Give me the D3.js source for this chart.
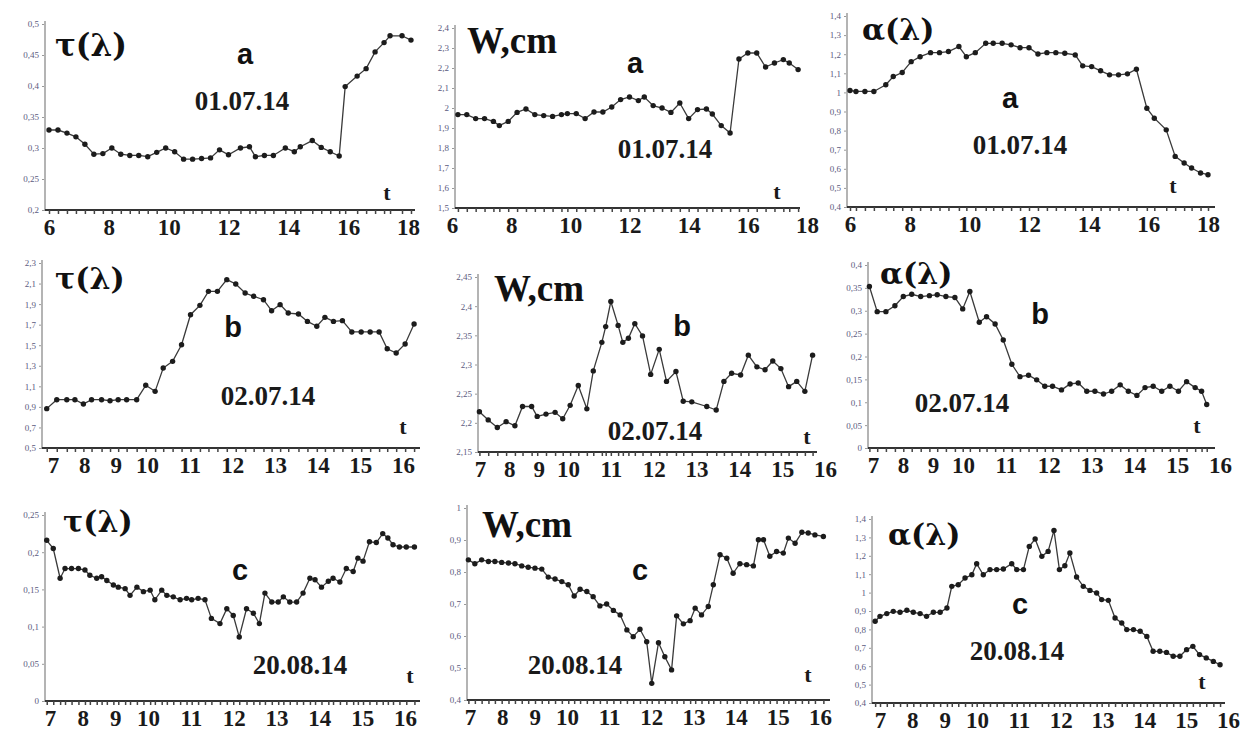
<!DOCTYPE html>
<html>
<head>
<meta charset="utf-8">
<script src="https://cdn.jsdelivr.net/npm/d3@7"></script>
<style>
body { margin: 0; background: #fff; }
</style>
</head>
<body>
<script>
// tick labels
var hoursDay1 = [6, 8, 10, 12, 14, 16, 18];
var hoursDay2 = [7, 8, 9, 10, 11, 12, 13, 14, 15, 16];

var tauATicks = [0.2, 0.25, 0.3, 0.35, 0.4, 0.45, 0.5];
var wATicks = [1.5, 1.6, 1.7, 1.8, 1.9, 2, 2.1, 2.2, 2.3, 2.4];
var alphaATicks = [0.4, 0.5, 0.6, 0.7, 0.8, 0.9, 1, 1.1, 1.2, 1.3, 1.4];
var tauBTicks = [0.5, 0.7, 0.9, 1.1, 1.3, 1.5, 1.7, 1.9, 2.1, 2.3];
var wBTicks = [2.15, 2.2, 2.25, 2.3, 2.35, 2.4, 2.45];
var alphaBTicks = [0, 0.05, 0.1, 0.15, 0.2, 0.25, 0.3, 0.35, 0.4];
var tauCTicks = [0, 0.05, 0.1, 0.15, 0.2, 0.25];
var wCTicks = [0.4, 0.5, 0.6, 0.7, 0.8, 0.9, 1];
var alphaCTicks = [0.4, 0.5, 0.6, 0.7, 0.8, 0.9, 1, 1.1, 1.2, 1.3, 1.4];

// series: [hour, value]
var tauA = [[6.0,0.329],[6.3,0.329],[6.6,0.324],[6.9,0.318],[7.2,0.306],[7.5,0.29],[7.8,0.291],[8.1,0.30],[8.4,0.29],[8.7,0.288],[9.0,0.288],[9.3,0.286],[9.6,0.293],[9.9,0.30],[10.2,0.294],[10.5,0.282],[10.8,0.282],[11.1,0.283],[11.4,0.284],[11.7,0.297],[12.0,0.289],[12.4,0.30],[12.7,0.302],[12.9,0.286],[13.2,0.288],[13.5,0.288],[13.9,0.30],[14.2,0.294],[14.4,0.302],[14.8,0.312],[15.1,0.301],[15.4,0.294],[15.7,0.287],[15.9,0.399],[16.3,0.416],[16.6,0.428],[16.9,0.455],[17.2,0.47],[17.4,0.481],[17.8,0.481],[18.1,0.474]];
var wA = [[6.2,1.967],[6.5,1.967],[6.8,1.947],[7.1,1.947],[7.4,1.933],[7.6,1.912],[7.9,1.933],[8.2,1.978],[8.5,1.995],[8.8,1.967],[9.1,1.962],[9.4,1.958],[9.7,1.967],[9.9,1.972],[10.2,1.972],[10.5,1.947],[10.8,1.98],[11.1,1.98],[11.4,2.005],[11.7,2.042],[12.0,2.055],[12.3,2.037],[12.5,2.055],[12.8,2.012],[13.1,2.0],[13.4,1.978],[13.7,2.025],[14.0,1.947],[14.3,1.992],[14.6,1.995],[14.8,1.97],[15.1,1.912],[15.4,1.875],[15.7,2.245],[16.0,2.275],[16.3,2.275],[16.6,2.205],[16.9,2.225],[17.2,2.242],[17.4,2.225],[17.7,2.192]];
var alphaA = [[6.0,1.01],[6.2,1.005],[6.5,1.005],[6.8,1.005],[7.2,1.04],[7.45,1.083],[7.75,1.104],[8.05,1.161],[8.35,1.187],[8.7,1.208],[9.0,1.208],[9.3,1.214],[9.65,1.24],[9.9,1.187],[10.2,1.208],[10.55,1.257],[10.8,1.257],[11.1,1.257],[11.4,1.249],[11.7,1.234],[12.0,1.234],[12.3,1.201],[12.6,1.208],[12.9,1.208],[13.2,1.205],[13.55,1.196],[13.8,1.139],[14.1,1.135],[14.4,1.113],[14.7,1.092],[15.0,1.092],[15.3,1.097],[15.6,1.121],[15.95,0.917],[16.2,0.865],[16.6,0.804],[16.9,0.665],[17.2,0.63],[17.45,0.604],[17.75,0.578],[18.0,0.569]];

var tauB = [[6.8,0.883],[7.12,0.97],[7.44,0.97],[7.7,0.97],[7.97,0.928],[8.23,0.97],[8.55,0.97],[8.82,0.96],[9.08,0.97],[9.35,0.97],[9.67,0.97],[9.96,1.11],[10.19,1.051],[10.38,1.278],[10.6,1.343],[10.81,1.505],[11.02,1.797],[11.24,1.888],[11.44,2.024],[11.65,2.024],[11.87,2.138],[12.08,2.096],[12.3,2.008],[12.5,1.976],[12.73,1.943],[12.92,1.836],[13.12,1.895],[13.31,1.813],[13.55,1.804],[13.76,1.732],[13.98,1.684],[14.17,1.771],[14.37,1.732],[14.58,1.739],[14.8,1.629],[15.02,1.629],[15.23,1.629],[15.44,1.629],[15.63,1.466],[15.84,1.424],[16.05,1.512],[16.26,1.706]];
var wB = [[6.98,2.219],[7.28,2.205],[7.59,2.192],[7.89,2.202],[8.19,2.195],[8.45,2.228],[8.76,2.228],[8.95,2.211],[9.25,2.215],[9.56,2.218],[9.82,2.207],[10.05,2.23],[10.24,2.264],[10.44,2.224],[10.59,2.289],[10.79,2.338],[10.88,2.365],[11.0,2.408],[11.17,2.367],[11.28,2.338],[11.41,2.345],[11.56,2.37],[11.74,2.349],[11.93,2.283],[12.13,2.326],[12.3,2.271],[12.52,2.288],[12.69,2.237],[12.89,2.236],[13.24,2.228],[13.46,2.222],[13.64,2.271],[13.82,2.285],[14.03,2.282],[14.21,2.316],[14.41,2.296],[14.6,2.291],[14.78,2.306],[14.97,2.293],[15.15,2.262],[15.34,2.271],[15.53,2.254],[15.71,2.316]];
var alphaB = [[6.88,0.353],[7.14,0.298],[7.43,0.298],[7.73,0.311],[8.01,0.331],[8.29,0.336],[8.59,0.331],[8.88,0.333],[9.14,0.335],[9.43,0.331],[9.73,0.329],[9.99,0.304],[10.16,0.342],[10.38,0.275],[10.55,0.287],[10.75,0.271],[10.94,0.236],[11.14,0.183],[11.33,0.156],[11.53,0.159],[11.72,0.149],[11.91,0.135],[12.09,0.135],[12.3,0.127],[12.5,0.14],[12.69,0.142],[12.89,0.124],[13.08,0.124],[13.28,0.118],[13.47,0.124],[13.67,0.138],[13.86,0.124],[14.06,0.115],[14.25,0.132],[14.44,0.135],[14.64,0.124],[14.83,0.135],[15.03,0.124],[15.22,0.145],[15.42,0.132],[15.57,0.124],[15.69,0.095]];

var tauC = [[6.9,0.216],[7.1,0.205],[7.31,0.165],[7.46,0.178],[7.66,0.178],[7.87,0.178],[8.07,0.176],[8.22,0.169],[8.43,0.165],[8.58,0.167],[8.74,0.162],[8.94,0.156],[9.09,0.153],[9.3,0.151],[9.45,0.142],[9.66,0.153],[9.86,0.147],[10.05,0.149],[10.16,0.136],[10.32,0.149],[10.44,0.142],[10.59,0.140],[10.75,0.136],[10.9,0.138],[11.02,0.136],[11.17,0.138],[11.33,0.136],[11.48,0.111],[11.68,0.104],[11.84,0.124],[11.99,0.115],[12.13,0.086],[12.3,0.124],[12.46,0.118],[12.6,0.104],[12.73,0.145],[12.89,0.133],[13.04,0.133],[13.16,0.140],[13.31,0.133],[13.47,0.133],[13.62,0.145],[13.78,0.165],[13.9,0.163],[14.05,0.153],[14.21,0.161],[14.32,0.165],[14.48,0.160],[14.63,0.178],[14.79,0.174],[14.9,0.192],[15.02,0.188],[15.17,0.214],[15.33,0.213],[15.48,0.225],[15.6,0.219],[15.72,0.210],[15.87,0.207],[16.03,0.207],[16.22,0.207]];
var wC = [[6.95,0.838],[7.15,0.826],[7.36,0.838],[7.57,0.833],[7.77,0.833],[7.98,0.830],[8.19,0.828],[8.39,0.826],[8.6,0.819],[8.8,0.815],[9.01,0.812],[9.22,0.809],[9.42,0.784],[9.63,0.778],[9.84,0.770],[10.03,0.760],[10.17,0.725],[10.31,0.746],[10.47,0.739],[10.62,0.723],[10.78,0.694],[10.94,0.700],[11.1,0.680],[11.26,0.666],[11.42,0.619],[11.57,0.598],[11.73,0.621],[11.89,0.582],[12.01,0.452],[12.17,0.579],[12.32,0.535],[12.48,0.494],[12.6,0.663],[12.76,0.638],[12.92,0.648],[13.04,0.687],[13.19,0.666],[13.35,0.692],[13.47,0.760],[13.63,0.854],[13.79,0.843],[13.94,0.796],[14.1,0.826],[14.26,0.823],[14.42,0.819],[14.54,0.901],[14.66,0.901],[14.81,0.849],[14.97,0.864],[15.13,0.859],[15.25,0.906],[15.41,0.890],[15.57,0.924],[15.72,0.922],[15.88,0.916],[16.08,0.911]];
var alphaC = [[6.85,0.844],[7.0,0.871],[7.21,0.886],[7.41,0.898],[7.62,0.893],[7.83,0.904],[8.03,0.893],[8.24,0.886],[8.44,0.871],[8.65,0.893],[8.86,0.893],[9.07,0.916],[9.22,1.034],[9.42,1.043],[9.63,1.079],[9.84,1.097],[9.99,1.157],[10.15,1.097],[10.31,1.125],[10.47,1.125],[10.63,1.128],[10.83,1.157],[10.95,1.125],[11.11,1.125],[11.25,1.251],[11.39,1.291],[11.55,1.197],[11.7,1.224],[11.84,1.338],[11.97,1.125],[12.1,1.146],[12.22,1.215],[12.38,1.085],[12.54,1.034],[12.7,1.012],[12.86,0.998],[12.98,0.962],[13.14,0.958],[13.3,0.862],[13.46,0.835],[13.58,0.799],[13.74,0.799],[13.9,0.790],[14.06,0.762],[14.21,0.681],[14.37,0.681],[14.53,0.675],[14.69,0.654],[14.85,0.654],[15.01,0.690],[15.16,0.708],[15.32,0.663],[15.48,0.645],[15.65,0.626],[15.81,0.608]];

var serifFont = "'Liberation Serif', 'Times New Roman', serif";
var greekFont = "'DejaVu Serif', serif";
var sansFont = "'Liberation Sans', Arial, sans-serif";

function fmt(v) {
    return String(+v.toFixed(2)).replace(".", ",");
}

function init() {
    var w = 1240;
    var h = 735;

    var svg = d3.select("body")
                .append("svg")
                .attr("width", w)
                .attr("height", h);

    var panels = [
        {data: tauA, yTicks: tauATicks, xTicks: hoursDay1, xDom: [6, 18], xRange: [49, 408], yDom: [0.2, 0.5], yRange: [210, 24], axisX: 45, axisEnd: 415,
         title: "τ(λ)", titleFont: greekFont, titleAt: [55, 56], titleSize: 31, letter: "a", letterAt: [245, 64], date: "01.07.14", dateAt: [242, 110], tAt: [387, 200]},
        {data: wA, yTicks: wATicks, xTicks: hoursDay1, xDom: [6, 18], xRange: [452, 807], yDom: [1.5, 2.4], yRange: [208, 28], axisX: 455, axisEnd: 800,
         title: "W,cm", titleFont: serifFont, titleAt: [467, 53], titleSize: 37, letter: "a", letterAt: [635, 73], date: "01.07.14", dateAt: [665, 158], tAt: [777, 199]},
        {data: alphaA, yTicks: alphaATicks, xTicks: hoursDay1, xDom: [6, 18], xRange: [850, 1208], yDom: [0.4, 1.4], yRange: [207, 16], axisX: 847, axisEnd: 1215,
         title: "α(λ)", titleFont: greekFont, titleAt: [862, 40], titleSize: 30, letter: "a", letterAt: [1010, 108], date: "01.07.14", dateAt: [1020, 154], tAt: [1173, 193]},

        {data: tauB, yTicks: tauBTicks, xTicks: hoursDay2, xDom: [7, 10, 16], xRange: [53, 147, 403], yDom: [0.5, 2.3], yRange: [448, 263], axisX: 42, axisEnd: 420,
         title: "τ(λ)", titleFont: greekFont, titleAt: [55, 289], titleSize: 30, letter: "b", letterAt: [233, 337], date: "02.07.14", dateAt: [268, 405], tAt: [403, 434]},
        {data: wB, yTicks: wBTicks, xTicks: hoursDay2, xDom: [7, 10, 16], xRange: [480, 568, 825], yDom: [2.15, 2.45], yRange: [452, 277], axisX: 478, axisEnd: 817,
         title: "W,cm", titleFont: serifFont, titleAt: [494, 301], titleSize: 37, letter: "b", letterAt: [682, 336], date: "02.07.14", dateAt: [655, 440], tAt: [807, 444]},
        {data: alphaB, yTicks: alphaBTicks, xTicks: hoursDay2, xDom: [7, 10, 16], xRange: [873, 963, 1220], yDom: [0, 0.4], yRange: [448, 265], axisX: 868, axisEnd: 1215,
         title: "α(λ)", titleFont: greekFont, titleAt: [880, 284], titleSize: 30, letter: "b", letterAt: [1040, 324], date: "02.07.14", dateAt: [962, 412], tAt: [1197, 433]},

        {data: tauC, yTicks: tauCTicks, xTicks: hoursDay2, xDom: [7, 10, 16], xRange: [50, 148, 405], yDom: [0, 0.25], yRange: [701, 515], axisX: 45, axisEnd: 420,
         title: "τ(λ)", titleFont: greekFont, titleAt: [63, 532], titleSize: 30, letter: "c", letterAt: [240, 580], date: "20.08.14", dateAt: [300, 674], tAt: [410, 683]},
        {data: wC, yTicks: wCTicks, xTicks: hoursDay2, xDom: [7, 10, 16], xRange: [470, 567, 820], yDom: [0.4, 1.0], yRange: [700, 508], axisX: 467, axisEnd: 830,
         title: "W,cm", titleFont: serifFont, titleAt: [482, 537], titleSize: 37, letter: "c", letterAt: [640, 580], date: "20.08.14", dateAt: [575, 674], tAt: [808, 682]},
        {data: alphaC, yTicks: alphaCTicks, xTicks: hoursDay2, xDom: [7, 10, 16], xRange: [880, 977, 1228], yDom: [0.4, 1.4], yRange: [703, 519], axisX: 872, axisEnd: 1225,
         title: "α(λ)", titleFont: greekFont, titleAt: [888, 545], titleSize: 30, letter: "c", letterAt: [1020, 614], date: "20.08.14", dateAt: [1017, 660], tAt: [1202, 689]}
    ];

    panels.forEach(function(p) {
        drawPanel(svg, p);
    });
}

function drawPanel(svg, p) {
    var xScale = d3.scaleLinear()
                    .domain(p.xDom)
                    .range(p.xRange);

    var yScale = d3.scaleLinear()
                    .domain(p.yDom)
                    .range(p.yRange);

    var g = svg.append("g");
    var base = yScale(p.yDom[0]);

    // y axis: pale line with tiny labels
    var yAxis = g.append("g")
        .attr("transform", "translate(" + p.axisX + ",0)")
        .call(d3.axisLeft(yScale).tickValues(p.yTicks).tickFormat(fmt).tickSize(3).tickPadding(3));
    yAxis.select(".domain").remove();
    yAxis.selectAll(".tick line").attr("stroke", "#999");
    yAxis.selectAll(".tick text")
        .attr("fill", "#5b5b80")
        .style("font-size", "9px")
        .style("font-family", serifFont);

    g.append("line")
        .attr("x1", p.axisX)
        .attr("x2", p.axisX)
        .attr("y1", yScale(p.yDom[1]) - 3)
        .attr("y2", base)
        .attr("stroke", "#b4b4b4")
        .attr("stroke-width", 2);

    // x axis: dark line with a small tick at every reading
    g.append("line")
        .attr("x1", p.axisX)
        .attr("x2", p.axisEnd)
        .attr("y1", base)
        .attr("y2", base)
        .attr("stroke", "#333")
        .attr("stroke-width", 2);

    var minor = g.append("g")
        .attr("transform", "translate(0," + base + ")")
        .call(d3.axisBottom(xScale).tickValues(p.data.map(function(d) { return d[0]; })).tickFormat("").tickSize(4));
    minor.select(".domain").remove();
    minor.selectAll(".tick line").attr("stroke", "#444").attr("stroke-width", 1.5);

    var xAxis = g.append("g")
        .attr("transform", "translate(0," + base + ")")
        .call(d3.axisBottom(xScale).tickValues(p.xTicks).tickSize(0).tickPadding(9));
    xAxis.select(".domain").remove();
    xAxis.selectAll(".tick text")
        .attr("fill", "#1a1a1a")
        .style("font-size", "23px")
        .style("font-weight", "bold")
        .style("font-family", serifFont);

    // series
    var line = d3.line()
        .x(function(d) { return xScale(d[0]); })
        .y(function(d) { return yScale(d[1]); });

    g.append("path")
        .datum(p.data)
        .attr("d", line)
        .attr("fill", "none")
        .attr("stroke", "#3a3a3a")
        .attr("stroke-width", 1.3);

    g.selectAll("circle")
        .data(p.data)
        .enter()
        .append("circle")
        .attr("cx", function(d) { return xScale(d[0]); })
        .attr("cy", function(d) { return yScale(d[1]); })
        .attr("r", 2.7)
        .attr("fill", "#1c1c1c");

    // labels
    g.append("text")
        .text(p.title)
        .attr("x", p.titleAt[0])
        .attr("y", p.titleAt[1])
        .attr("fill", "#111")
        .style("font-size", p.titleSize + "px")
        .style("font-weight", "bold")
        .style("font-family", p.titleFont);

    g.append("text")
        .text(p.letter)
        .attr("x", p.letterAt[0])
        .attr("y", p.letterAt[1])
        .attr("text-anchor", "middle")
        .attr("fill", "#111")
        .style("font-size", "29px")
        .style("font-weight", "bold")
        .style("font-family", sansFont);

    g.append("text")
        .text(p.date)
        .attr("x", p.dateAt[0])
        .attr("y", p.dateAt[1])
        .attr("text-anchor", "middle")
        .attr("fill", "#1a1a1a")
        .style("font-size", "27px")
        .style("font-weight", "bold")
        .style("font-family", serifFont);

    g.append("text")
        .text("t")
        .attr("x", p.tAt[0])
        .attr("y", p.tAt[1])
        .attr("text-anchor", "middle")
        .attr("fill", "#1a1a1a")
        .style("font-size", "22px")
        .style("font-weight", "bold")
        .style("font-family", serifFont);
}

window.onload = init;
</script>
</body>
</html>
